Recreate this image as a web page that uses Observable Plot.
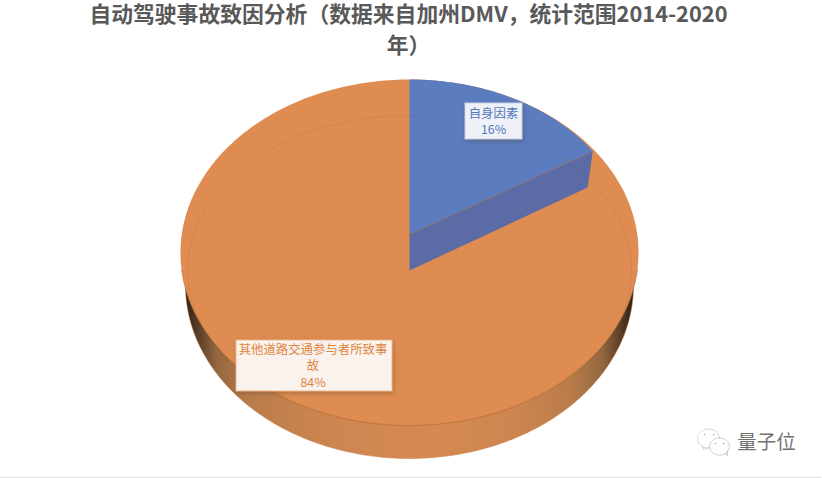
<!DOCTYPE html>
<html><head><meta charset="utf-8">
<script src="https://cdn.jsdelivr.net/npm/d3@7"></script>
<script src="https://cdn.jsdelivr.net/npm/@observablehq/plot@0.6"></script>
<style>
html,body{margin:0;padding:0;background:#fff;overflow:hidden;width:822px;height:478px}
#title{height:62px;width:822px;margin:0;text-align:center;font:bold 21.8px/31px "Noto Sans CJK SC",sans-serif;color:#595959;position:relative;left:-2.5px;top:-3px}
svg{display:block}
</style></head><body>
<div id="title"></div>
<div id="chart"></div>
<script>
const titleLines = ["自动驾驶事故致因分析（数据来自加州DMV，统计范围2014-2020", "年）"];
const categories = ["自身因素", "其他道路交通参与者所致事故"];
const shares = [16, 84];
const labelLines = [["自身因素", "16%"], ["其他道路交通参与者所致事", "故", "84%"]];
const watermark = "量子位";

document.getElementById("title").innerHTML = titleLines.join("<br>");

const TOP = 62, W = 822, H = 478;
const ellipse = (cx, cy, rx, ry, a0, a1, n = 180) =>
  d3.range(n + 1).map(i => {
    const t = a0 + (a1 - a0) * i / n;
    return {x: cx + rx * Math.sin(t), y: cy - ry * Math.cos(t)};
  });

const cx = 409, PI = Math.PI, TAU = 2 * PI;
const end = TAU * shares[0] / d3.sum(shares);

const face = ellipse(cx, 252, 229, 173, 0, TAU, 360);
const body = ellipse(cx, 285, 224, 173, 0, TAU, 360);
const faceFront = ellipse(cx, 252, 229, 173, PI / 2 + 0.1, 3 * PI / 2 - 0.1);
const inner = ellipse(cx, 270, 222, 155, 0, TAU, 360);

const apex = {x: cx, y: 234}, apexLow = {x: cx, y: 270};
const sliceArc = ellipse(cx, 234, 217, 155, 0, end, 60);
const cornerTop = sliceArc[sliceArc.length - 1];
const cornerLow = ellipse(cx, 270, 211, 155, end, end, 1)[0];
const slice = [apex, ...sliceArc];
const sliceWall = [apex, cornerTop, cornerLow, apexLow];
const sliceEdge = [apex, cornerTop];

const boxes = [
  {x1: 465, x2: 522, y1: 103, y2: 139, fill: "#eef1f8", stroke: "#c9d4ea"},
  {x1: 236, x2: 392, y1: 340, y2: 391, fill: "#faf2ed", stroke: "#eeb98f"}
];
const labelRows = [
  ...labelLines[0].map((t, i) => ({t, x: 493, y: [114, 130][i], c: "#5577bd"})),
  ...labelLines[1].map((t, i) => ({t, x: 312.5, y: [350, 366, 383][i], c: "#e0853f"}))
];

const defs = () => {
  const d = d3.create("svg:defs");
  const g = d.append("linearGradient").attr("id", "wall").attr("gradientUnits", "userSpaceOnUse")
    .attr("x1", 185).attr("x2", 633).attr("y1", 0).attr("y2", 0);
  [[0, "#2f2014"], [0.03, "#5c3f28"], [0.07, "#94673f"], [0.14, "#b97c4b"], [0.3, "#cc844f"], [0.55, "#d68a52"],
   [0.75, "#cc844f"], [0.86, "#b97c4b"], [0.93, "#94673f"], [0.97, "#5c3f28"], [1, "#2b1c10"]]
    .forEach(([o, c]) => g.append("stop").attr("offset", o).attr("stop-color", c));
  return d.node();
};

const bubble1 = ellipse(708, 438, 11, 9.5, 0, TAU, 60);
const bubble2 = ellipse(719, 446, 10, 8.5, 0, TAU, 60);
const tails = [[{x: 702, y: 445}, {x: 703, y: 449}, {x: 708, y: 447}], [{x: 724, y: 453}, {x: 727, y: 455}, {x: 727, y: 450}]];
const eyes = [{x: 704, y: 434}, {x: 713, y: 434}, {x: 715, y: 443}, {x: 723, y: 443}];

const poly = (data, o) => Plot.line(data, {x: "x", y: "y", stroke: "none", ...o});

const plot = Plot.plot({
  width: W, height: H - TOP,
  margin: 0,
  x: {domain: [0, W], range: [0, W], axis: null},
  y: {domain: [TOP, H], range: [0, H - TOP], axis: null},
  style: {background: "#fff"},
  marks: [
    defs,
    poly(body, {fill: "url(#wall)", stroke: "#c77a42", strokeWidth: 0.5}),
    poly(face, {fill: "#de8c51"}),
    poly(faceFront, {stroke: "#c4763c", strokeWidth: 0.7}),
    poly(slice, {fill: "#5b7cbf"}),
    poly(sliceWall, {fill: "#5a6ba6"}),
    poly(sliceEdge, {stroke: "#9a6f62", strokeWidth: 0.7}),
    poly(inner, {stroke: "#7a4a30", strokeOpacity: 0.16, strokeWidth: 0.7}),
    Plot.rect(boxes, {x1: "x1", x2: "x2", y1: "y1", y2: "y2", fill: "fill", stroke: "stroke", strokeWidth: 1,
      imageFilter: "drop-shadow(1px 2px 2px rgba(90,60,40,0.35))"}),
    Plot.text(labelRows, {x: "x", y: "y", text: "t", fill: "c", fontSize: 12.4, fontFamily: "Noto Sans CJK SC, sans-serif", textAnchor: "middle"}),
    poly(bubble1, {fill: "#fff", stroke: "#c4c4c4", strokeWidth: 0.7, strokeDasharray: "2 1"}),
    poly(tails[0], {stroke: "#c4c4c4", strokeWidth: 0.7}),
    poly(bubble2, {fill: "#fff", stroke: "#b5b5b5", strokeWidth: 0.7}),
    poly(tails[1], {stroke: "#b5b5b5", strokeWidth: 0.7}),
    Plot.dot(eyes, {x: "x", y: "y", r: 0.8, fill: "#a8a8a8"}),
    Plot.text([watermark], {x: () => 766, y: () => 442, text: d => d, fontSize: 19.5, fill: "#555", fillOpacity: 0.85, fontFamily: "Noto Sans CJK SC, sans-serif", textAnchor: "middle"}),
    Plot.ruleY([477], {x1: 0, x2: 821, stroke: "#e4e4e4", strokeWidth: 1.5})
  ]
});
document.getElementById("chart").appendChild(plot);
</script>
</body></html>
